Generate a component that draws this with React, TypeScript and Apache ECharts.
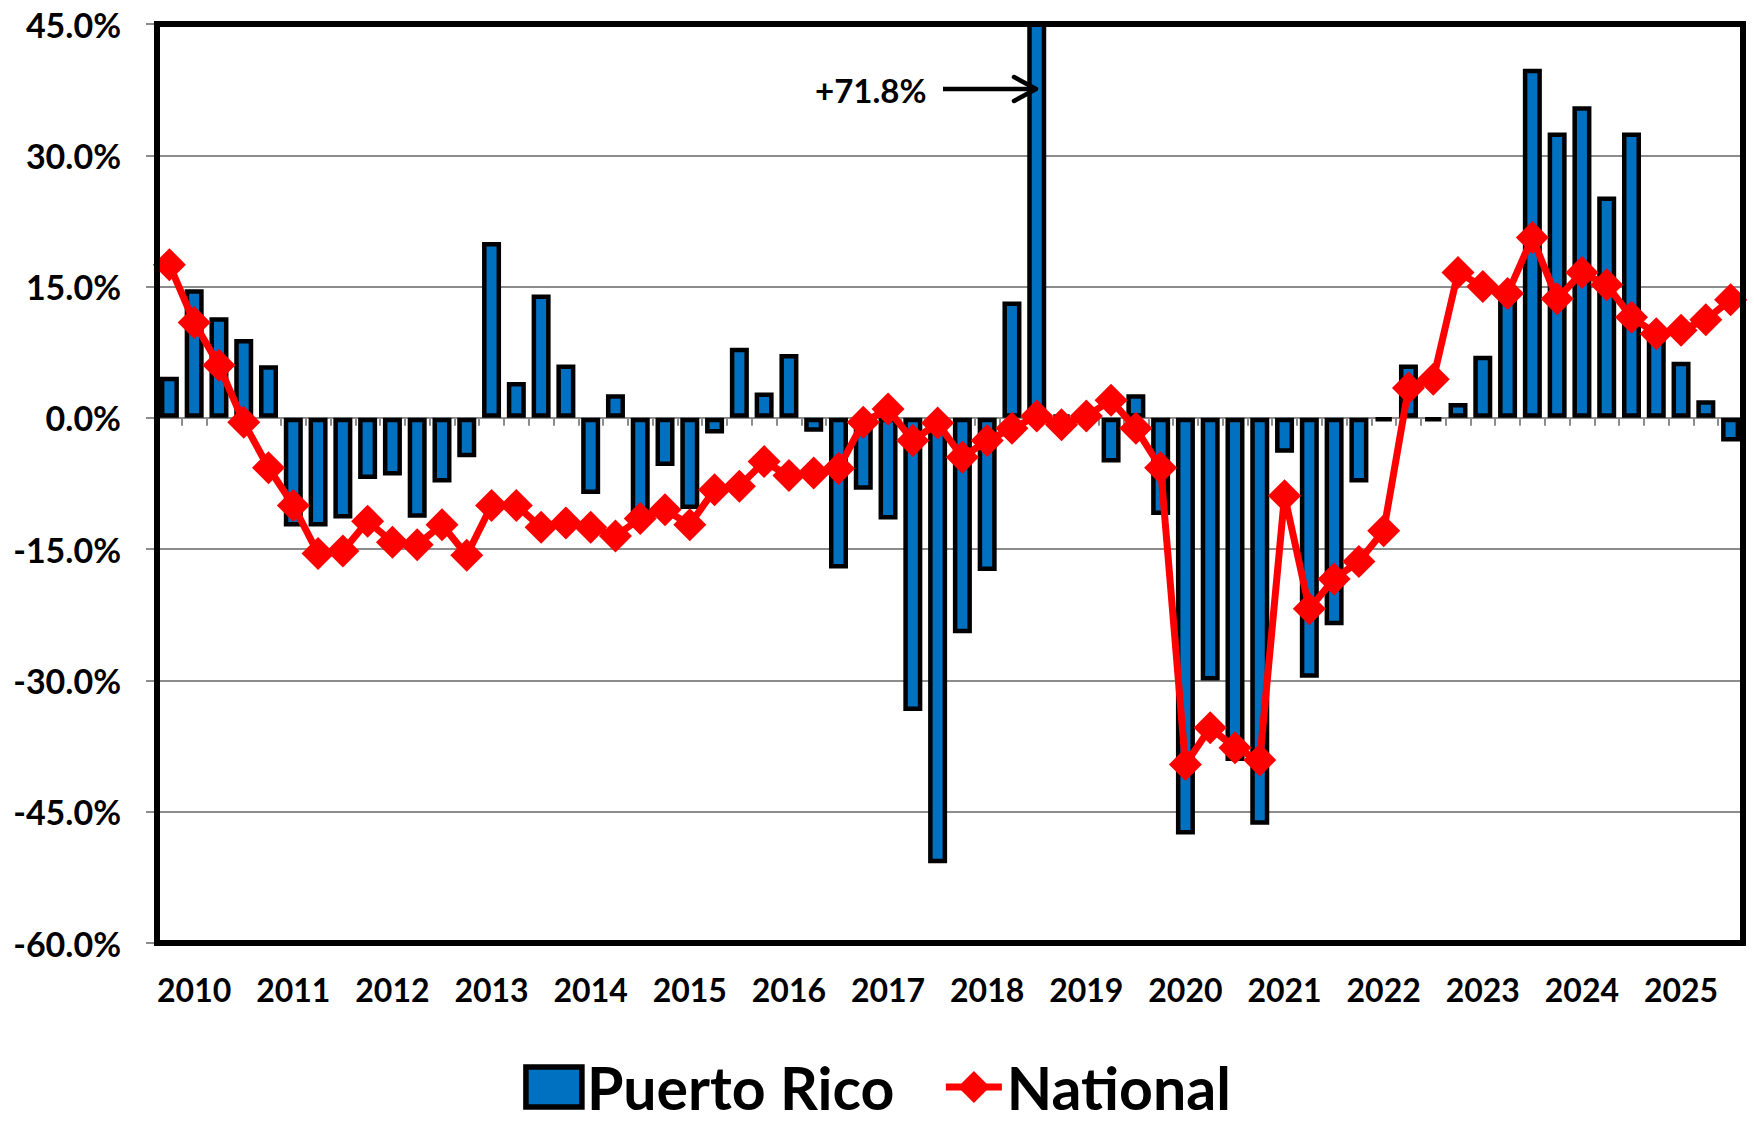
import React, { useEffect, useRef } from 'react';
import * as echarts from 'echarts';

// Quarterly categories: 2009 Q4 .. 2025 Q3
const quarters: string[] = [
  '2009 Q4',
  '2010 Q1', '2010 Q2', '2010 Q3', '2010 Q4',
  '2011 Q1', '2011 Q2', '2011 Q3', '2011 Q4',
  '2012 Q1', '2012 Q2', '2012 Q3', '2012 Q4',
  '2013 Q1', '2013 Q2', '2013 Q3', '2013 Q4',
  '2014 Q1', '2014 Q2', '2014 Q3', '2014 Q4',
  '2015 Q1', '2015 Q2', '2015 Q3', '2015 Q4',
  '2016 Q1', '2016 Q2', '2016 Q3', '2016 Q4',
  '2017 Q1', '2017 Q2', '2017 Q3', '2017 Q4',
  '2018 Q1', '2018 Q2', '2018 Q3', '2018 Q4',
  '2019 Q1', '2019 Q2', '2019 Q3', '2019 Q4',
  '2020 Q1', '2020 Q2', '2020 Q3', '2020 Q4',
  '2021 Q1', '2021 Q2', '2021 Q3', '2021 Q4',
  '2022 Q1', '2022 Q2', '2022 Q3', '2022 Q4',
  '2023 Q1', '2023 Q2', '2023 Q3', '2023 Q4',
  '2024 Q1', '2024 Q2', '2024 Q3', '2024 Q4',
  '2025 Q1', '2025 Q2', '2025 Q3',
];

// Year-over-year % change, Puerto Rico (bars)
const puertoRico: number[] = [
  4.7, 14.7, 11.5, 9.0, 6.0, -12.4, -12.4, -11.5, -7.0, -6.6, -11.4,
  -7.4, -4.5, 20.1, 4.1, 14.1, 6.1, -8.7, 2.7, -11.8, -5.5, -10.4,
  -1.8, 8.0, 2.9, 7.3, -1.6, -17.2, -8.2, -11.6, -33.5, -50.9, -24.6,
  -17.5, 13.3, 71.8, 0.3, -0.3, -5.1, 2.7, -11.1, -47.6, -30.0, -39.2,
  -46.5, -4.0, -29.7, -23.7, -7.4, -0.3, 6.1, -0.3, 1.7, 7.1, 15.0,
  39.9, 32.6, 35.6, 25.3, 32.6, 9.0, 6.4, 2.0, -2.7,
];

// Year-over-year % change, National (line)
const national: number[] = [
  17.5, 10.9, 6.0, -0.5, -5.7, -10.0, -15.5, -15.2, -11.8, -14.2, -14.5,
  -12.2, -15.7, -10.0, -10.0, -12.5, -12.0, -12.5, -13.5, -11.5, -10.5, -12.2,
  -8.2, -7.8, -5.0, -6.6, -6.3, -5.8, -0.5, 1.0, -2.6, -0.6, -4.5,
  -2.6, -1.2, 0.2, -0.8, 0.2, 2.0, -1.2, -5.7, -39.6, -35.4, -37.7,
  -39.1, -8.9, -21.8, -18.4, -16.4, -12.9, 3.4, 4.4, 16.6, 15.0, 14.2,
  20.6, 13.6, 16.6, 15.2, 11.5, 9.6, 10.0, 11.2, 13.5,
];

const Y_MIN = -60;
const Y_MAX = 45;
const Y_STEP = 15;
const annotationText = '+71.8%';

const FONT = 'Lato';
const GRAY = '#8c8c8c';

export default function App() {
  const ref = useRef<HTMLDivElement>(null);

  useEffect(() => {
    if (!ref.current) return;
    const chart = echarts.init(ref.current, null, { renderer: 'svg' });
    chart.setOption({
      animation: false,
      backgroundColor: '#ffffff',
      grid: { left: 157, right: 11, top: 24, bottom: 181, containLabel: false },
      legend: {
        top: 1052,
        left: 'center',
        itemWidth: 56,
        itemHeight: 40,
        itemGap: 48,
        textStyle: {
          fontFamily: FONT,
          fontWeight: 'bold',
          fontSize: 59,
          lineHeight: 60,
          color: '#000',
        },
        data: [
          { name: 'Puerto Rico', icon: 'rect', itemStyle: { borderColor: '#000', borderWidth: 5.5 } },
          { name: 'National', itemStyle: { borderWidth: 0 }, lineStyle: { width: 7 } },
        ],
      },
      xAxis: [
        {
          type: 'category',
          data: quarters,
          position: 'bottom',
          axisLine: { show: false, onZero: false },
          axisTick: { show: false },
          splitLine: { show: false },
          axisLabel: {
            interval: (i: number) => i % 4 === 1,
            formatter: (v: string) => v.slice(0, 4),
            fontFamily: FONT,
            fontWeight: 'bold',
            fontSize: 32,
            color: '#000',
            margin: 30,
          },
        },
        {
          type: 'category',
          data: quarters,
          position: 'bottom',
          axisLine: { show: true, onZero: true, onZeroAxisIndex: 0, lineStyle: { color: GRAY, width: 2 } },
          axisTick: { show: true, interval: 0, length: 8, lineStyle: { color: GRAY, width: 2 } },
          axisLabel: { show: false },
          splitLine: { show: false },
        },
      ],
      yAxis: {
        type: 'value',
        min: Y_MIN,
        max: Y_MAX,
        interval: Y_STEP,
        axisLine: { show: false },
        axisTick: { show: true, length: 11, lineStyle: { color: GRAY, width: 2 } },
        splitLine: { show: true, lineStyle: { color: GRAY, width: 2 } },
        axisLabel: {
          formatter: (v: number) => v.toFixed(1) + '%',
          fontFamily: FONT,
          fontWeight: 'bold',
          fontSize: 34,
          color: '#000',
          margin: 36,
        },
      },
      series: [
        {
          name: 'Puerto Rico',
          type: 'bar',
          xAxisIndex: 0,
          data: puertoRico,
          barWidth: 19,
          clip: true,
          itemStyle: { color: '#0070C0', borderColor: '#000', borderWidth: 4.5 },
          z: 2,
        },
        {
          name: 'National',
          type: 'line',
          xAxisIndex: 0,
          data: national,
          symbol: 'diamond',
          symbolSize: 33,
          showAllSymbol: true,
          lineStyle: { color: '#ff0000', width: 7 },
          itemStyle: { color: '#ff0000' },
          z: 3,
        },
      ],
      graphic: [
        {
          type: 'rect',
          z: 100,
          shape: { x: 157, y: 24, width: 1586, height: 919 },
          style: { fill: 'none', stroke: '#000', lineWidth: 6 },
        },
        {
          type: 'text',
          z: 101,
          x: 815,
          y: 90,
          style: {
            text: annotationText,
            fontFamily: FONT,
            fontWeight: 'bold',
            fontSize: 33,
            fill: '#000',
            verticalAlign: 'middle',
          },
        },
        {
          type: 'line',
          z: 101,
          shape: { x1: 943, y1: 89, x2: 1034, y2: 89 },
          style: { stroke: '#000', lineWidth: 4.5 },
        },
        {
          type: 'polyline',
          z: 101,
          shape: { points: [[1014, 77], [1036, 89], [1014, 101]] },
          style: { stroke: '#000', lineWidth: 4.5, fill: 'none', lineCap: 'round', lineJoin: 'round' },
        },
      ],
    });
    return () => chart.dispose();
  }, []);

  return (
    <div
      ref={ref}
      style={{ position: 'fixed', left: 0, top: 0, width: 1754, height: 1124, background: '#fff' }}
    />
  );
}
